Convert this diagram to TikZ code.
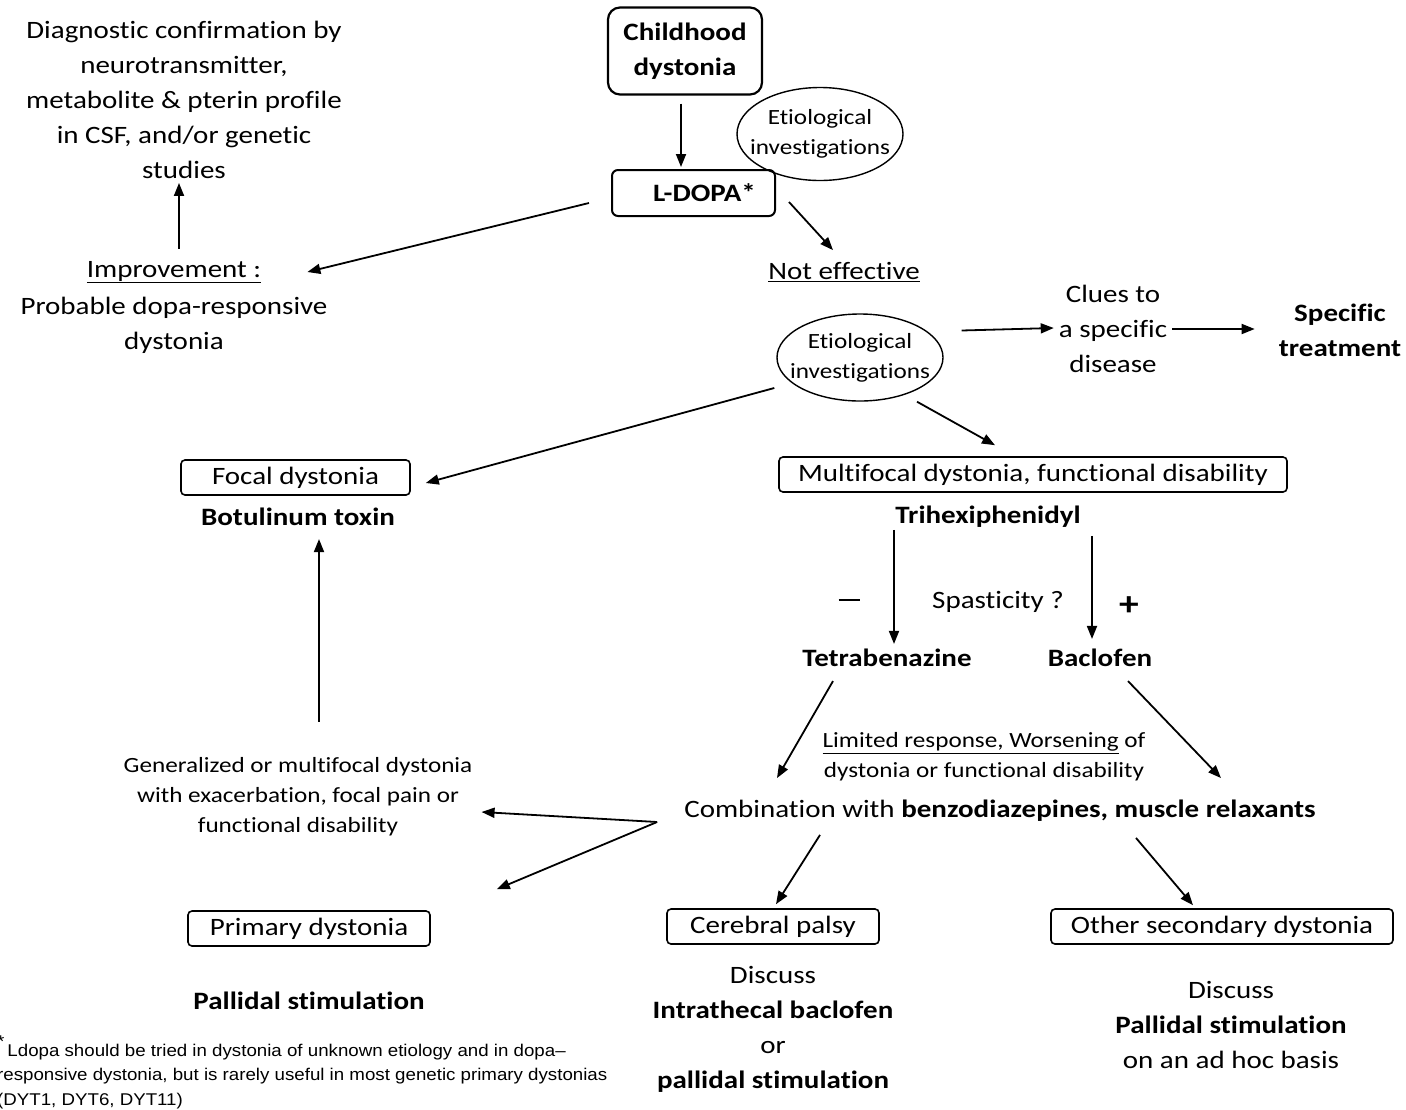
\documentclass[tikz,border=0pt]{standalone}
\usepackage{fontspec}
\setmainfont[FakeStretch=1.16, Ligatures={TeX,NoCommon}]{Carlito}
\newfontfamily\notefont[FakeStretch=1.10]{Liberation Sans}
\usetikzlibrary{arrows.meta, shapes.geometric}

\begin{document}
\begin{tikzpicture}[x=1pt, y=-1pt,
    every node/.style={anchor=center, align=center, inner sep=0pt,
        font=\fontsize{25}{35}\selectfont},
    small/.style={font=\fontsize{21.7}{30}\selectfont},
    dbox/.style={draw, line width=1.6pt, rounded corners=4pt, minimum height=35pt},
    eti/.style={draw, ellipse, line width=1.4pt, inner xsep=-12pt, minimum width=166pt, small},
    arr/.style={-{Triangle[length=13pt,width=10pt]}, line width=1.8pt}]
    \useasboundingbox (0,0) rectangle (1406,1109);
    % top part
    \node (diag) at (184,100) {Diagnostic confirmation by\\neurotransmitter,\\metabolite \& pterin profile\\in CSF, and/or genetic\\studies};
    \node[draw, line width=2.2pt, rounded corners=12pt, minimum width=154pt, minimum height=87pt,
        font=\fontsize{25}{35}\selectfont\bfseries] (child) at (685,51) {Childhood\\dystonia};
    \node[draw, line width=2pt, rounded corners=6pt, minimum width=163pt, minimum height=46pt,
        font=\fontsize{25}{35}\selectfont\bfseries] (ldopa) at (693.5,193) {\hspace*{22pt}L-DOPA*};
    \node[eti, minimum height=93pt] (eti1) at (820,134) {Etiological\\investigations};
    \node (impr) at (174,272) {\underline{Improvement :}};
    \node (prob) at (174,325.5) {Probable dopa-responsive\\dystonia};
    \node (noteff) at (844,272) {\underline{Not effective}};
    \node[eti, minimum height=87pt] (eti2) at (860,357.5) {Etiological\\investigations};
    \node (clues) at (1113,329) {Clues to\\a specific\\disease};
    \node[font=\fontsize{25}{35}\selectfont\bfseries] (spec) at (1340,330.5) {Specific\\treatment};
    % middle part
    \node[dbox, minimum width=229pt] (focal) at (295.5,477.5) {Focal dystonia};
    \node[font=\fontsize{25}{35}\selectfont\bfseries] (botu) at (298,517) {Botulinum toxin};
    \node[dbox, minimum width=508pt] (multi) at (1033,474.5) {Multifocal dystonia, functional disability};
    \node[font=\fontsize{25}{35}\selectfont\bfseries] (trihex) at (988,517) {Trihexiphenidyl};
    \node (minus) at (849,600) {\rule{21pt}{2.4pt}};
    \node (spast) at (998,602) {Spasticity ?};
    \node[font=\fontsize{34}{35}\selectfont\bfseries] (plus) at (1129,606) {+};
    \node[font=\fontsize{25}{35}\selectfont\bfseries] (tetra) at (887,658) {Tetrabenazine};
    \node[font=\fontsize{25}{35}\selectfont\bfseries] (baclo) at (1100,658) {Baclofen};
    \node[small] (limit) at (984,757) {\underline{Limited response, Worsening} of\\dystonia or functional disability};
    \node (comb) at (1000,811) {Combination with \textbf{benzodiazepines, muscle relaxants}};
    \node[small] (gener) at (298,797) {Generalized or multifocal dystonia\\with exacerbation, focal pain or\\functional disability};
    % bottom part
    \node[dbox, minimum width=242pt] (prim) at (309,928.5) {Primary dystonia};
    \node[font=\fontsize{25}{35}\selectfont\bfseries] (pall) at (309,1001) {Pallidal stimulation};
    \node[dbox, minimum width=212pt] (cereb) at (773,926.5) {Cerebral palsy};
    \node (disc1) at (773,1029) {Discuss\\\textbf{Intrathecal baclofen}\\or\\\textbf{pallidal stimulation}};
    \node[dbox, minimum width=342pt] (other) at (1222,926.5) {Other secondary dystonia};
    \node (disc2) at (1231,1024.5) {Discuss\\\textbf{Pallidal stimulation}\\on an ad hoc basis};
    \node[anchor=west, align=left, font=\notefont\fontsize{17}{24.5}\selectfont] (note) at (-3,1072)
        {\raisebox{9pt}{*}\hspace{3pt}Ldopa should be tried in dystonia of unknown etiology and in dopa–\\responsive dystonia, but is rarely useful in most genetic primary dystonias\\(DYT1, DYT6, DYT11)};
    % arrows
    \draw[arr, shorten <=8pt, shorten >=2pt] ([xshift=-4pt]child.south) -- ([xshift=-4pt]child.south |- ldopa.north);
    \draw[arr] ([shift={(-22,10)}]ldopa.west) -- ([shift={(46,0)}]impr.east);
    \draw[arr] ([shift={(13,9)}]ldopa.east) -- ([shift={(-11,-12)}]noteff.north);
    \draw[arr, shorten <=12pt, shorten >=4pt] ([xshift=5pt]impr.north) -- ([xshift=5pt]impr.north |- diag.south);
    \draw[arr] ([shift={(18,-27)}]eti2.east) -- ([shift={(-5,-1)}]clues.west);
    \draw[arr, shorten <=5pt, shorten >=24pt] (clues.east) -- (spec.west |- clues.east);
    \draw[arr] ([shift={(-2,30.5)}]eti2.west) -- ([shift={(15,5.5)}]focal.east);
    \draw[arr] ([shift={(57,0)}]eti2.south) -- ([shift={(-38,-11)}]multi.north);
    \draw[arr, shorten <=2pt, shorten >=5pt] ([xshift=7pt]tetra.north |- trihex.south) -- ([xshift=7pt]tetra.north);
    \draw[arr, shorten <=8pt, shorten >=10pt] ([xshift=-8pt]baclo.north |- trihex.south) -- ([xshift=-8pt]baclo.north);
    \draw[arr] ([shift={(-54,14)}]tetra.south) -- ([shift={(-223,-22)}]comb.north);
    \draw[arr] ([shift={(28,14)}]baclo.south) -- ([shift={(221,-22)}]comb.north);
    \draw[arr] ([shift={(-27,11)}]comb.west) -- ([shift={(9,15)}]gener.east);
    \draw[arr] ([shift={(-27,11)}]comb.west) -- ([shift={(66,-21)}]prim.north east);
    \draw[arr, shorten <=36pt, shorten >=13pt] ([xshift=21pt]botu.south |- gener.north) -- ([xshift=21pt]botu.south);
    \draw[arr] ([shift={(-180,13)}]comb.south) -- ([shift={(3,-4)}]cereb.north);
    \draw[arr] ([shift={(136,16)}]comb.south) -- ([shift={(-29,-3)}]other.north);
\end{tikzpicture}
\end{document}
